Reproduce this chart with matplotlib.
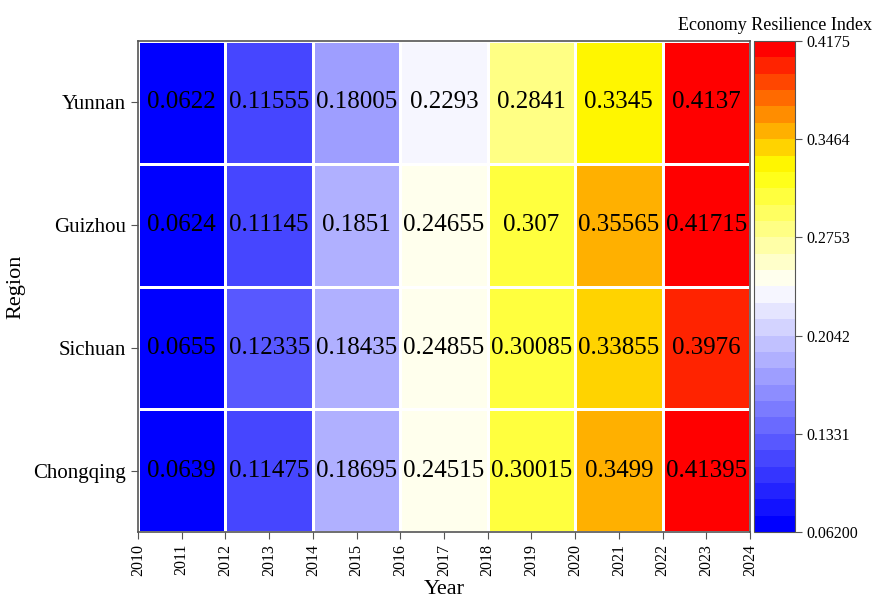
#!/usr/bin/env python3
"""
Heatmap of the economy resilience index for four south-west China regions.
"""
import numpy as np
import matplotlib
matplotlib.use("Agg")
import matplotlib.pyplot as plt
from matplotlib.colors import LinearSegmentedColormap, Normalize

plt.rcParams["font.family"] = ["Liberation Serif", "DejaVu Serif"]

# data: rows listed from bottom to top, columns = 2-year blocks 2010..2024
regions = ["Chongqing", "Sichuan", "Guizhou", "Yunnan"]
year_edges = [2010, 2012, 2014, 2016, 2018, 2020, 2022, 2024]
chongqing = [0.0639, 0.11475, 0.18695, 0.24515, 0.30015, 0.3499, 0.41395]
sichuan = [0.0655, 0.12335, 0.18435, 0.24855, 0.30085, 0.33855, 0.3976]
guizhou = [0.0624, 0.11145, 0.1851, 0.24655, 0.307, 0.35565, 0.41715]
yunnan = [0.0622, 0.11555, 0.18005, 0.2293, 0.2841, 0.3345, 0.4137]
cbar_ticks = [0.062, 0.1331, 0.2042, 0.2753, 0.3464, 0.4175]
cbar_labels = ["0.06200", "0.1331", "0.2042", "0.2753", "0.3464", "0.4175"]

values = np.array([chongqing, sichuan, guizhou, yunnan])
vmin, vmax = 0.062, 0.4175

cmap = LinearSegmentedColormap.from_list(
    "bwyr", [(0.0, "blue"), (0.5, "white"), (0.75, "yellow"), (1.0, "red")]
).resampled(30)
norm = Normalize(vmin=vmin, vmax=vmax)

fig = plt.figure(figsize=(8.72, 6), dpi=100)
ax = fig.add_axes([0.1583, 0.1133, 0.7018, 0.8184])
cax = fig.add_axes([0.8647, 0.1133, 0.047, 0.8184])

y_edges = np.arange(len(regions) + 1)
mesh = ax.pcolormesh(year_edges, y_edges, values, cmap=cmap, norm=norm,
                     edgecolors="white", linewidth=1.0)

for i in range(len(regions)):
    for j in range(len(year_edges) - 1):
        xc = (year_edges[j] + year_edges[j + 1]) / 2
        ax.text(xc, i + 0.5, f"{values[i, j]:g}", ha="center", va="center",
                fontsize=18, color="black")

ax.set_xlim(2010, 2024)
ax.set_ylim(0, len(regions))
ax.set_xticks(np.arange(2010, 2025))
ax.set_xticklabels([str(y) for y in range(2010, 2025)], rotation=90, fontsize=11.5)
ax.set_yticks(np.arange(len(regions)) + 0.5)
ax.set_yticklabels(regions, fontsize=15)
ax.set_xlabel("Year", fontsize=16, labelpad=3)
ax.set_ylabel("Region", fontsize=16, labelpad=6)
for sp in ax.spines.values():
    sp.set_color("#555555")
    sp.set_linewidth(1.2)
ax.tick_params(color="#555555", length=5)

cb = fig.colorbar(mesh, cax=cax)
cb.set_ticks(cbar_ticks)
cb.set_ticklabels(cbar_labels)
cb.ax.tick_params(labelsize=11.5, color="#555555", length=5)
cb.outline.set_edgecolor("#555555")
cax.set_title("Economy Resilience Index", fontsize=13, pad=8)

fig.savefig("out.png", dpi=100)
